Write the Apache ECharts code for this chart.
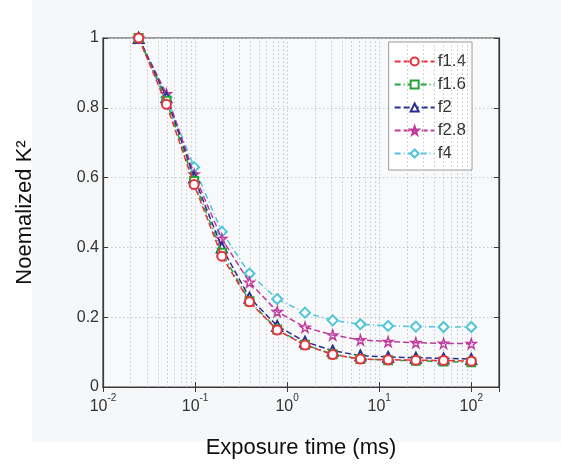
<!DOCTYPE html>
<html><head><meta charset="utf-8">
<script src="https://cdn.jsdelivr.net/npm/echarts@6/dist/echarts.min.js"></script>
<style>html,body{margin:0;padding:0;background:#fff}#c{width:561px;height:464px}</style>
</head><body><div id="c"></div>
<script>
// Exposure times (ms)
const exposure = [0.0244, 0.0488, 0.0977, 0.195, 0.39, 0.78, 1.5625, 3.125, 6.25, 12.5, 25, 50, 100];
const f14 = [1, 0.81, 0.58, 0.375, 0.244, 0.163, 0.120, 0.093, 0.080, 0.078, 0.077, 0.076, 0.074];
const f16 = [1, 0.82, 0.59, 0.385, 0.246, 0.165, 0.121, 0.094, 0.080, 0.077, 0.075, 0.073, 0.071];
const f2  = [1, 0.83, 0.60, 0.400, 0.256, 0.175, 0.130, 0.104, 0.090, 0.086, 0.084, 0.082, 0.080];
const f28 = [1, 0.84, 0.61, 0.425, 0.300, 0.216, 0.171, 0.149, 0.135, 0.130, 0.127, 0.125, 0.124];
const f4  = [1, 0.83, 0.63, 0.445, 0.325, 0.252, 0.213, 0.191, 0.180, 0.175, 0.173, 0.172, 0.172];
const seriesNames = ['f1.4', 'f1.6', 'f2', 'f2.8', 'f4'];
const yTicks = [0, 0.2, 0.4, 0.6, 0.8, 1];

// minor log grid lines (2..9 x each decade)
const minorGrid = [];
for (let d = -2; d <= 2; d++) {
  for (let m = 2; m <= 9; m++) {
    const v = m * Math.pow(10, d);
    if (v < 200) minorGrid.push(+v.toPrecision(3));
  }
}

const colors = ['#e8313a', '#23a23a', '#2b2f8f', '#c03a9c', '#4ec6d8'];
const dashes = [[6, 3], [6, 3, 1, 3], [6, 3], [6, 3], [6, 3, 1, 3]];
const starPath = 'path://M50,0 L61,35 L98,35 L68,57 L79,91 L50,70 L21,91 L32,57 L2,35 L39,35 Z';
const symbols = ['emptyCircle', 'emptyRect', 'emptyTriangle', starPath, 'emptyDiamond'];
const sizes = [9, 8, 10, 10, 10];
const allData = [f14, f16, f2, f28, f4];

const chart = echarts.init(document.getElementById('c'), null, {renderer: 'canvas'});

function xLabel(v) {
  const l = Math.log10(v);
  const r = Math.round(l);
  if (Math.abs(l - r) > 1e-6) return '';
  return '{b|10}{s|' + r + '}';
}

const series = seriesNames.map((name, i) => ({
  name: name,
  type: 'line',
  data: exposure.map((x, j) => [x, allData[i][j]]),
  symbol: symbols[i],
  symbolSize: sizes[i],
  showAllSymbol: true,
  z: 15 - i,
  lineStyle: {color: colors[i], width: 1.5, type: dashes[i]},
  itemStyle: i === 3 ? {color: 'rgba(255,255,255,0)', borderColor: colors[i], borderWidth: 1.4}
                     : {color: colors[i], borderWidth: 1.5},
  emphasis: {disabled: true},
  animation: false
}));

series.push({
  name: '_grid',
  type: 'line',
  data: [],
  silent: true,
  z: 1,
  markLine: {
    silent: true,
    symbol: ['none', 'none'],
    animation: false,
    label: {show: false},
    lineStyle: {color: '#c4c6ca', width: 1, type: [1.5, 2.5]},
    data: minorGrid.map(v => ({xAxis: v}))
  }
});

chart.setOption({
  backgroundColor: '#ffffff',
  animation: false,
  graphic: [
    {type: 'rect', z: -10, silent: true, shape: {x: 32, y: 0, width: 529, height: 442}, style: {fill: '#f6f7f9'}}
  ],
  grid: {left: 103, right: 62, top: 38, bottom: 69, show: true, borderColor: '#3a3a3a', borderWidth: 1.2, backgroundColor: '#f8f9fb'},
  legend: {
    data: seriesNames,
    orient: 'vertical',
    right: 89, top: 42,
    itemWidth: 40, itemHeight: 10,
    itemGap: 6,
    backgroundColor: '#ffffff',
    borderColor: '#9a9a9a', borderWidth: 1,
    borderRadius: 0,
    padding: [11, 6, 8, 5],
    textStyle: {fontFamily: 'Liberation Sans, Arial', fontSize: 17, color: '#333', padding: [0, 0, 0, -2]}
  },
  xAxis: [{
    type: 'log', logBase: 10, min: 0.01, max: 200,
    name: 'Exposure time (ms)', nameLocation: 'middle', nameGap: 50,
    nameTextStyle: {fontFamily: 'Liberation Sans, Arial', fontSize: 22, color: '#111'},
    axisLine: {show: true, lineStyle: {color: '#3a3a3a', width: 1.2}},
    axisTick: {show: true, inside: true, length: 5, lineStyle: {color: '#3a3a3a'}},
    splitLine: {show: true, lineStyle: {color: '#c4c6ca', type: [1.5, 2.5]}},
    axisLabel: {
      formatter: xLabel, margin: 6, showMaxLabel: false,
      rich: {
        b: {fontFamily: 'Liberation Sans, Arial', fontSize: 16, color: '#333', verticalAlign: 'bottom', padding: [6, 0, 0, 0]},
        s: {fontFamily: 'Liberation Sans, Arial', fontSize: 10, color: '#333', verticalAlign: 'top', padding: [0, 0, 8, 0]}
      }
    }
  }, {
    type: 'log', logBase: 10, min: 0.01, max: 200, position: 'top',
    axisLine: {show: true, lineStyle: {color: '#3a3a3a', width: 1.2}},
    axisTick: {show: true, inside: true, length: 5, lineStyle: {color: '#3a3a3a'}},
    axisLabel: {show: false}, splitLine: {show: false}
  }],
  yAxis: [{
    type: 'value', min: 0, max: 1, interval: 0.2,
    name: 'Noemalized K\u00b2', nameLocation: 'middle', nameGap: 67,
    nameTextStyle: {fontFamily: 'Liberation Sans, Arial', fontSize: 22, color: '#111'},
    axisLine: {show: true, lineStyle: {color: '#3a3a3a', width: 1.2}},
    axisTick: {show: true, inside: true, length: 5, lineStyle: {color: '#3a3a3a'}},
    splitLine: {show: true, lineStyle: {color: '#c4c6ca', type: [1.5, 2.5]}},
    axisLabel: {fontFamily: 'Liberation Sans, Arial', fontSize: 16, color: '#333', margin: 4,
      formatter: v => (yTicks.indexOf(+v.toFixed(1)) >= 0 ? String(+v.toFixed(1)) : '')}
  }, {
    type: 'value', min: 0, max: 1, interval: 0.2, position: 'right',
    axisLine: {show: true, lineStyle: {color: '#3a3a3a', width: 1.2}},
    axisTick: {show: true, inside: true, length: 5, lineStyle: {color: '#3a3a3a'}},
    axisLabel: {show: false}, splitLine: {show: false}
  }],
  series: series
});
</script>
</body></html>
